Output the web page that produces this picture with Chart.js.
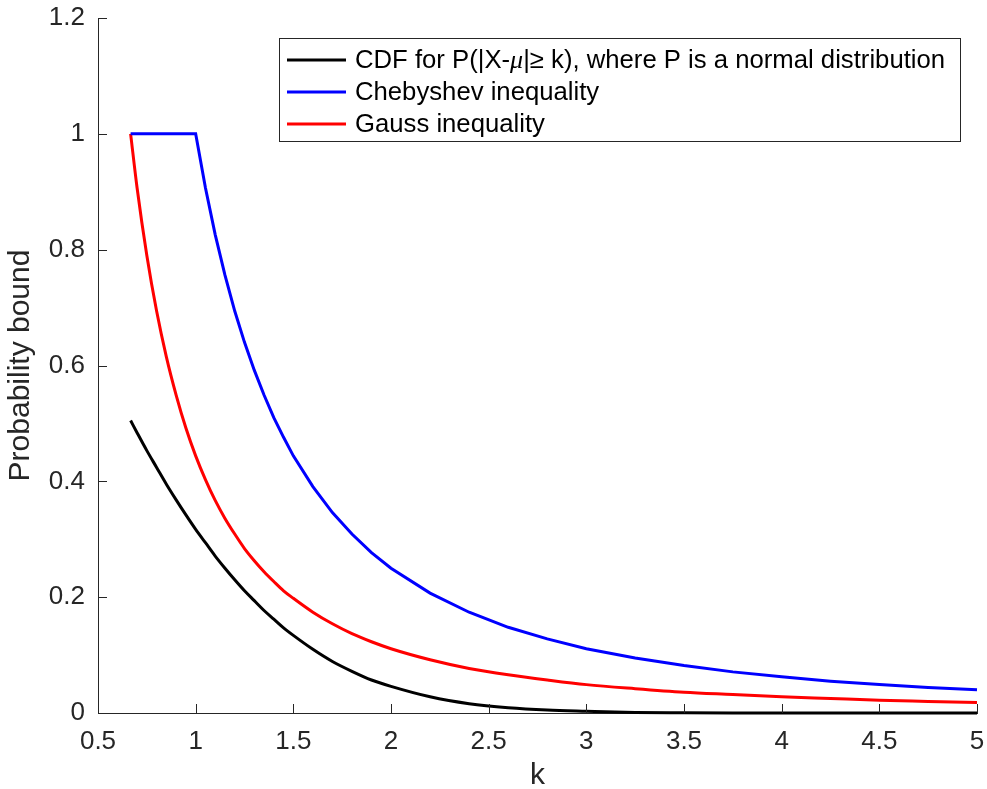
<!DOCTYPE html>
<html>
<head>
<meta charset="utf-8">
<script src="https://cdn.jsdelivr.net/npm/chart.js@4.4.1/dist/chart.umd.min.js"></script>
<style>
  body { margin: 0; background: #fff; }
  #wrap { width: 987px; height: 789px; position: relative; }
</style>
</head>
<body>
<div id="wrap"><canvas id="boundChart"></canvas></div>
<script>
// values
const kValues = [0.667, 0.7, 0.75, 0.8, 0.85, 0.9, 0.95, 1.0, 1.05, 1.1, 1.15, 1.2, 1.25, 1.3, 1.35, 1.4, 1.45, 1.5,
    1.6, 1.7, 1.8, 1.9, 2.0, 2.2, 2.4, 2.6, 2.8, 3.0, 3.25, 3.5, 3.75, 4.0, 4.25, 4.5, 4.75, 5.0];
const normalTail = [0.505, 0.484, 0.453, 0.424, 0.395, 0.368, 0.342, 0.317, 0.294, 0.271, 0.250, 0.230, 0.211, 0.194, 0.177, 0.162, 0.147, 0.134,
    0.110, 0.089, 0.072, 0.057, 0.046, 0.028, 0.016, 0.009, 0.005, 0.003, 0.001, 0.0005, 0.0002, 0.0001, 0, 0, 0, 0];
const chebyshev = [1, 1, 1, 1, 1, 1, 1, 1, 0.907, 0.826, 0.756, 0.694, 0.640, 0.592, 0.549, 0.510, 0.476, 0.444,
    0.391, 0.346, 0.309, 0.277, 0.250, 0.207, 0.174, 0.148, 0.128, 0.111, 0.095, 0.082, 0.071, 0.0625, 0.055, 0.049, 0.044, 0.040];
const gauss = [1.0, 0.907, 0.790, 0.694, 0.615, 0.549, 0.492, 0.444, 0.403, 0.367, 0.336, 0.309, 0.284, 0.263, 0.244, 0.227, 0.211, 0.198,
    0.174, 0.154, 0.137, 0.123, 0.111, 0.092, 0.077, 0.066, 0.057, 0.049, 0.042, 0.036, 0.032, 0.028, 0.025, 0.022, 0.020, 0.018];

const seriesLabels = ['CDF for P(|X-μ|≥ k), where P is a normal distribution', 'Chebyshev inequality', 'Gauss inequality'];
const xTicks = [0.5, 1, 1.5, 2, 2.5, 3, 3.5, 4, 4.5, 5];
const yTicks = [0, 0.2, 0.4, 0.6, 0.8, 1, 1.2];

const axisColor = '#262626';
Chart.defaults.font.family = '"Liberation Sans", Arial, sans-serif';
Chart.defaults.color = axisColor;

const pts = ys => kValues.map((k, i) => ({ x: k, y: ys[i] }));

// MATLAB style ticks pointing into the plot
const innerTicks = {
    id: 'innerTicks',
    afterDraw(chart) {
        const ctx = chart.ctx, a = chart.chartArea;
        const xs = chart.scales.x, ys = chart.scales.y;
        ctx.save();
        ctx.strokeStyle = axisColor; ctx.lineWidth = 1;
        ctx.beginPath();
        xTicks.forEach(v => { const px = Math.round(xs.getPixelForValue(v)) + 0.5; ctx.moveTo(px, a.bottom); ctx.lineTo(px, a.bottom - 9); });
        yTicks.forEach(v => { const py = Math.round(ys.getPixelForValue(v)) + 0.5; ctx.moveTo(a.left, py); ctx.lineTo(a.left + 9, py); });
        ctx.stroke();
        ctx.restore();
    }
};

const boxLegend = {
    id: 'boxLegend',
    afterDraw(chart) {
        const ctx = chart.ctx;
        const bx = 279.5, by = 38.5, bw = 681, bh = 103;
        ctx.save();
        ctx.fillStyle = '#fff'; ctx.fillRect(bx, by, bw, bh);
        ctx.strokeStyle = axisColor; ctx.lineWidth = 1; ctx.strokeRect(bx, by, bw, bh);
        ctx.textBaseline = 'middle';
        chart.data.datasets.forEach((ds, i) => {
            const cy = 60 + i * 32;
            ctx.strokeStyle = ds.borderColor; ctx.lineWidth = 3;
            ctx.beginPath(); ctx.moveTo(287, cy); ctx.lineTo(346, cy); ctx.stroke();
            ctx.fillStyle = '#000';
            let x = 355;
            ds.label.split(/(μ)/).forEach(part => {
                ctx.font = part === 'μ' ? 'italic 26px "Liberation Serif", serif' : '25.7px "Liberation Sans", Arial, sans-serif';
                ctx.fillText(part, x, cy + 1);
                x += ctx.measureText(part).width;
            });
        });
        ctx.restore();
    }
};

new Chart(document.getElementById('boundChart'), {
    type: 'line',
    data: {
        datasets: [
            { label: seriesLabels[0], data: pts(normalTail), borderColor: '#000000', cubicInterpolationMode: 'monotone' },
            { label: seriesLabels[1], data: pts(chebyshev), borderColor: '#0000ff', tension: 0 },
            { label: seriesLabels[2], data: pts(gauss), borderColor: '#ff0000', cubicInterpolationMode: 'monotone' }
        ]
    },
    options: {
        responsive: true, maintainAspectRatio: false, animation: false,
        layout: { padding: { top: 18, right: 10, left: 0, bottom: 0 } },
        elements: { point: { radius: 0 }, line: { borderWidth: 3 } },
        datasets: { line: { clip: 6 } },
        plugins: { legend: { display: false }, tooltip: { enabled: false } },
        scales: {
            x: {
                type: 'linear', min: 0.5, max: 5,
                afterBuildTicks: s => { s.ticks = xTicks.map(v => ({ value: v })); },
                afterFit: s => { s.height = 76; s.paddingLeft = 0; s.paddingRight = 0; },
                ticks: { font: { size: 26 }, padding: 13, maxRotation: 0, callback: v => String(v) },
                grid: { drawOnChartArea: false, drawTicks: false },
                border: { color: axisColor, width: 1 },
                title: { display: true, text: 'k', font: { size: 30 }, padding: { top: 0, bottom: -5 } }
            },
            y: {
                min: 0, max: 1.2,
                afterBuildTicks: s => { s.ticks = yTicks.map(v => ({ value: v })); },
                afterFit: s => { s.width = 98; s.paddingTop = 0; s.paddingBottom = 0; },
                ticks: { font: { size: 26 }, padding: 13, callback: v => String(v) },
                grid: { drawOnChartArea: false, drawTicks: false },
                border: { color: axisColor, width: 1 },
                title: { display: true, text: 'Probability bound', font: { size: 30 }, padding: { top: 3, bottom: 0 } }
            }
        }
    },
    plugins: [innerTicks, boxLegend]
});
</script>
</body>
</html>
